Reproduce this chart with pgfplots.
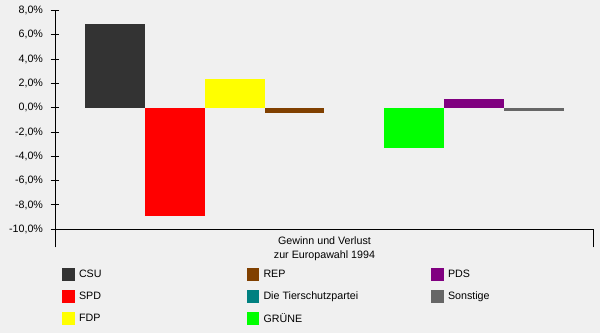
\documentclass[border=0pt]{standalone}
\usepackage{pgfplots}
\pgfplotsset{compat=1.18}
\usepackage{fontspec}
\setmainfont{Liberation Sans}
\definecolor{bg}{HTML}{F0F0F0}
\definecolor{csu}{HTML}{333333}
\definecolor{spd}{HTML}{FF0000}
\definecolor{fdp}{HTML}{FFFF00}
\definecolor{rep}{HTML}{804000}
\definecolor{tier}{HTML}{008080}
\definecolor{gruene}{HTML}{00FF00}
\definecolor{pds}{HTML}{800080}
\definecolor{sonst}{HTML}{666666}
\begin{document}
\begin{tikzpicture}[font=\fontsize{10.7bp}{13.3bp}\selectfont]
\useasboundingbox (0,0) rectangle (600bp,333bp);
\fill[bg] (0,0) rectangle (600bp,333bp);
\begin{axis}[
  at={(55bp,103.7bp)}, anchor=south west,
  scale only axis, width=539bp, height=218.8bp,
  xmin=-1, xmax=8, ymin=-10, ymax=8,
  clip=false,
  axis x line*=bottom, axis y line*=left,
  axis line style={line width=1bp, black, -},
  xtick=\empty,
  ytick={-10,-8,...,8},
  tick align=center, major tick length=8.6bp,
  tick style={line width=1bp, black},
  /pgf/number format/.cd, fixed, fixed zerofill, precision=1, use comma, assume math mode=true,
  /pgfplots/.cd,
  yticklabel={\pgfmathprintnumber{\tick}\%},
  yticklabel style={inner sep=0pt, xshift=-7.5bp},
  ybar, bar width=1, bar shift=0pt,
  xlabel={Gewinn und Verlust\\zur Europawahl 1994},
  xlabel style={align=center, at={(axis description cs:0.5,0)}, anchor=north, inner sep=0pt, yshift=-7.5bp},
  legend columns=3,
  legend cell align=left,
  legend style={at={(0.013,-0.1563)}, anchor=north west, draw=none, fill=none,
    inner sep=0pt, outer sep=0pt, row sep=0pt,
    nodes={inner sep=0pt, minimum height=22bp},
    /tikz/every odd column/.append style={column sep=4.5bp}},
  legend image code/.code={\fill[#1] (0bp,-6.5bp) rectangle (12.5bp,6.5bp);},
]
\addplot[fill=csu, draw=none] coordinates {(0,6.9)};
\addlegendentry{\makebox[167.5bp][l]{CSU}}
\addplot[fill=rep, draw=none] coordinates {(3,-0.4)};
\addlegendentry{\makebox[167.5bp][l]{REP}}
\addplot[fill=pds, draw=none] coordinates {(6,0.7)};
\addlegendentry{\makebox[167.5bp][l]{PDS}}
\addplot[fill=spd, draw=none] coordinates {(1,-8.9)};
\addlegendentry{\makebox[167.5bp][l]{SPD}}
\addplot[fill=none, draw=none,
  legend image code/.code={\fill[tier, opacity=1, fill opacity=1] (0bp,-6.5bp) rectangle (12.5bp,6.5bp);}] coordinates {(4,0)};
\addlegendentry{\makebox[167.5bp][l]{Die Tierschutzpartei}}
\addplot[fill=sonst, draw=none] coordinates {(7,-0.3)};
\addlegendentry{\makebox[167.5bp][l]{Sonstige}}
\addplot[fill=fdp, draw=none] coordinates {(2,2.4)};
\addlegendentry{\makebox[167.5bp][l]{FDP}}
\addplot[fill=gruene, draw=none] coordinates {(5,-3.3)};
\addlegendentry{\makebox[167.5bp][l]{GRÜNE}}
\draw[line width=1bp, black] ([yshift=-18bp]rel axis cs:0,0) -- (rel axis cs:0,1);
\draw[line width=1bp, black] ([yshift=-18bp]rel axis cs:1,0) -- (rel axis cs:1,0);
\end{axis}
\end{tikzpicture}
\end{document}
